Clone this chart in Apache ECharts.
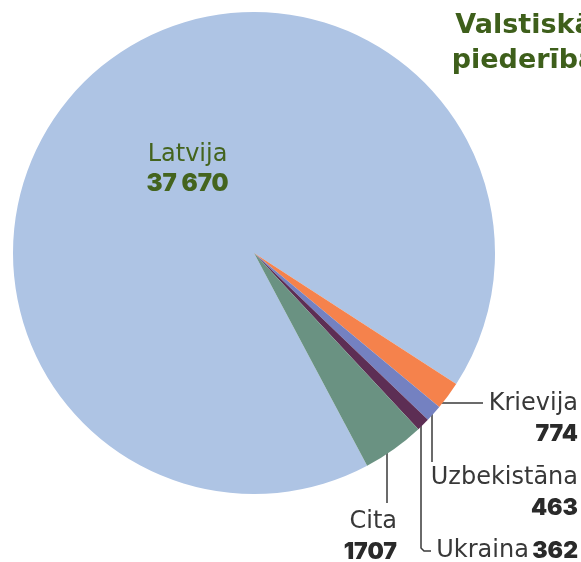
<!DOCTYPE html>
<html>
<head>
<meta charset="utf-8">
<script src="https://cdn.jsdelivr.net/npm/echarts@6/dist/echarts.min.js"></script>
<style>
  html, body { margin: 0; padding: 0; background: #fff; }
  #chart { width: 581px; height: 562px; }
</style>
</head>
<body>
<div id="chart"></div>
<script>
const categories = ["Latvija", "Krievija", "Uzbekistāna", "Ukraina", "Cita"];
const values = [37670, 774, 463, 362, 1707];
const valueLabels = ["37 670", "774", "463", "362", "1707"];
const sliceColors = ["#aec4e4", "#f5824c", "#7481c1", "#5d2e54", "#6a9282"];

const CX = 254, CY = 253, R = 241;
const FONT = "DejaVu Sans";
const NUM_FONT = "Inter";

// where the outside labels sit and how their leader lines run
const labelSpots = {
  1: { x: 578, y: 389, kind: "h", at: 403, end: 483 },
  2: { x: 578, y: 463, kind: "v", at: 432, end: 462 },
  3: { x: 578, y: 536, kind: "L", at: 421, end: 551, to: 431 },
  4: { x: 397, y: 507, kind: "v", at: 387, end: 503 }
};

const edgeX = (y) => CX + Math.sqrt(R * R - (y - CY) * (y - CY));
const edgeY = (x) => CY + Math.sqrt(R * R - (x - CX) * (x - CX));

const chart = echarts.init(document.getElementById("chart"));

const option = {
  animation: false,
  title: {
    text: "Valstiskā\npiederība",
    left: 519,
    top: 3,
    textAlign: "center",
    textStyle: {
      fontFamily: FONT,
      fontSize: 27,
      fontWeight: "bold",
      color: "#3e5f1b",
      lineHeight: 35
    }
  },
  series: [
    {
      type: "pie",
      center: [CX, CY],
      radius: R,
      startAngle: -62,
      clockwise: true,
      avoidLabelOverlap: false,
      data: categories.map((name, i) => ({
        name: name,
        value: values[i],
        itemStyle: { color: sliceColors[i] },
        label: i === 0
          ? {
              position: "inside",
              formatter: "{n|" + name + "}\n{v|" + valueLabels[i] + "}",
              rich: {
                n: { fontFamily: FONT, fontSize: 24, color: "#44641e", lineHeight: 29 },
                v: { fontFamily: NUM_FONT, fontSize: 24, fontWeight: 900, color: "#44641e", lineHeight: 29 }
              }
            }
          : {
              position: "outside",
              formatter: i === 3
                ? "{n|" + name + "} {v|" + valueLabels[i] + "}"
                : "{n|" + name + "}\n{v|" + valueLabels[i] + "}",
              rich: {
                n: { fontFamily: FONT, fontSize: 24, color: "#383838", lineHeight: 30, align: "right" },
                v: { fontFamily: NUM_FONT, fontSize: 23, fontWeight: 900, color: "#2a2a2a", lineHeight: 30, align: "right" }
              }
            },
        labelLine: { show: i !== 0 }
      })),
      labelLine: {
        lineStyle: { color: "#3a3a3a", width: 1.5 }
      },
      labelLayout: function (params) {
        const i = params.dataIndex;
        if (i === 0) return { dx: 17, dy: 7 };
        const s = labelSpots[i];
        let pts;
        if (s.kind === "h") {
          pts = [[edgeX(s.at) - 3, s.at], [s.end, s.at]];
        } else if (s.kind === "v") {
          pts = [[s.at, edgeY(s.at) - 3], [s.at, s.end]];
        } else {
          pts = [[s.at, edgeY(s.at) - 3], [s.at, s.end - 3], [s.at + 3, s.end], [s.to, s.end]];
        }
        return {
          x: s.x,
          y: s.y,
          align: "right",
          verticalAlign: "top",
          labelLinePoints: pts
        };
      }
    }
  ]
};

chart.setOption(option);
</script>
</body>
</html>
